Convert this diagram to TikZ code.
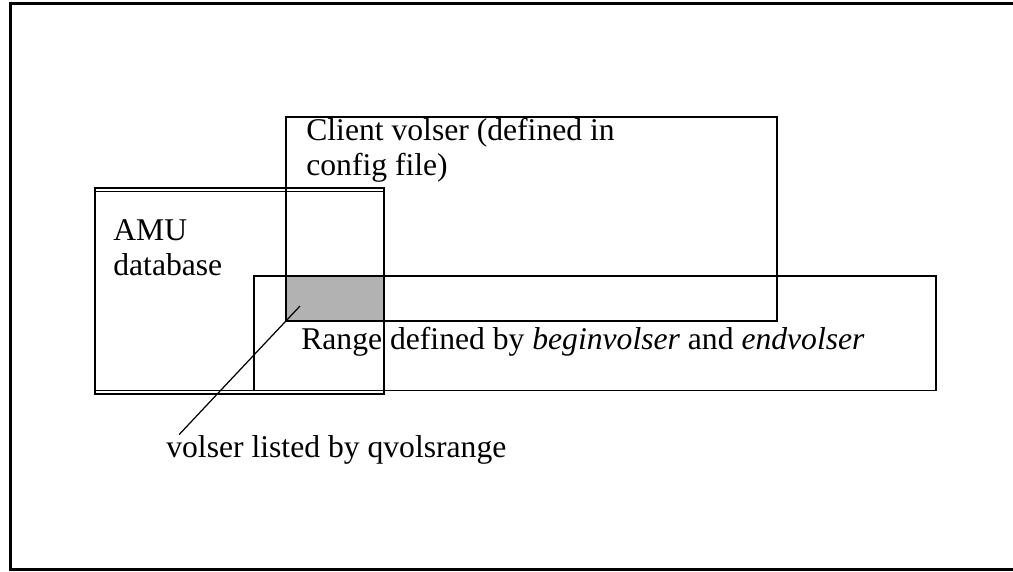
\documentclass[tikz,border=0pt]{standalone}
\usepackage{fontspec}
\setmainfont{Liberation Serif}
\begin{document}
\begin{tikzpicture}[
  label/.style={black,shape=rectangle,inner sep=0pt,anchor=base west,align=left,
    font=\fontsize{18}{19.9}\selectfont},
  box/.style={line width=0.7pt},
  frame/.style={line width=1.3pt},
]
\useasboundingbox (0,0) rectangle (20.26,11.42);

\draw[frame] (20.3,11.35) -- (0.21,11.35) -- (0.21,0.03) -- (20.3,0.03);

\fill[black!30] (5.72,5.90) rectangle (7.68,5.00);

\draw[box] (1.90,7.66) rectangle (7.68,3.54);
\draw[box] (1.90,7.59) -- (7.68,7.59);
\draw[box] (1.90,3.61) -- (7.68,3.61);
\draw[box] (5.72,9.08) rectangle (15.54,5.00);
\draw[box] (5.08,5.90) rectangle (18.72,3.61);

\node[label] (client) at (6.12,7.92) {Client volser (defined in\\config file)};
\node[label] (amu) at (2.26,5.92) {AMU\\database};
\node[label] (range) at (6.02,4.44) {Range defined by \textit{beginvolser} and \textit{endvolser}};
\node[label] (qvols) at (3.32,2.28) {volser listed by qvolsrange};

\coordinate (pick) at (6.00,5.30);
\draw[box] (pick) -- ([xshift=0.26cm]qvols.north west);

\end{tikzpicture}
\end{document}
